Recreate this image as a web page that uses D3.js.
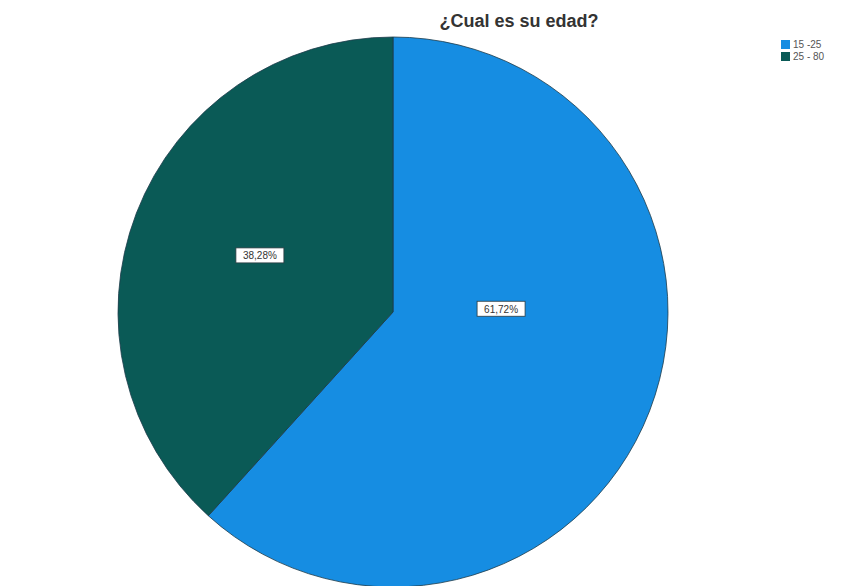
<!DOCTYPE html>
<html>
<head>
<meta charset="utf-8">
<script src="https://cdn.jsdelivr.net/npm/d3@7"></script>
<style>
  html, body { margin: 0; padding: 0; background: #ffffff; }
  svg { display: block; }
</style>
</head>
<body>
<svg id="chart" width="867" height="586"></svg>
<script>
// Age groups and their share of respondents (%)
const categories = ["15 -25", "25 - 80"];
const percentages = [61.72, 38.28];
const colors = ["#168de2", "#0a5a56"];
const title = "¿Cual es su edad?";

const width = 867, height = 586;
const cx = 393, cy = 312, radius = 275;

// Label anchors, as fractions of the radius relative to the centre
const labelAnchors = [[0.393, -0.01], [-0.484, -0.204]];

const svg = d3.select("#chart");

svg.append("text")
  .attr("x", 519).attr("y", 27)
  .attr("text-anchor", "middle")
  .attr("font-family", "Liberation Sans, Arial, sans-serif")
  .attr("font-weight", "bold")
  .attr("font-size", 18)
  .attr("fill", "#333")
  .text(title);

const data = categories.map((c, i) => ({ cat: c, value: percentages[i], color: colors[i], i }));

const pie = d3.pie().value(d => d.value).sort(null);
const arc = d3.arc().innerRadius(0).outerRadius(radius);

const g = svg.append("g").attr("transform", `translate(${cx},${cy})`);

g.selectAll("path.slice")
  .data(pie(data))
  .join("path")
  .attr("class", "slice")
  .attr("d", arc)
  .attr("fill", d => d.data.color)
  .attr("stroke", "#1d3b4a")
  .attr("stroke-width", 0.8);

const fmt = v => d3.format(".2f")(v).replace(".", ",") + "%";

const labels = g.selectAll("g.lbl")
  .data(pie(data))
  .join("g")
  .attr("class", "lbl")
  .attr("transform", d => {
    const a = labelAnchors[d.data.i];
    return `translate(${a[0] * radius},${a[1] * radius})`;
  });

labels.append("rect")
  .attr("x", -24).attr("y", -8)
  .attr("width", 48).attr("height", 15)
  .attr("fill", "#ffffff")
  .attr("stroke", "#2a3a40")
  .attr("stroke-width", 0.8);

labels.append("text")
  .attr("text-anchor", "middle")
  .attr("y", 3.5)
  .attr("font-family", "Liberation Sans, Arial, sans-serif")
  .attr("font-size", 10)
  .attr("fill", "#333")
  .text(d => fmt(d.data.value));

// Legend
const legend = svg.append("g").attr("transform", "translate(781,40)");
const item = legend.selectAll("g")
  .data(data)
  .join("g")
  .attr("transform", (d, i) => `translate(0,${i * 12})`);

item.append("rect")
  .attr("width", 9).attr("height", 9)
  .attr("fill", d => d.color);

item.append("text")
  .attr("x", 12).attr("y", 8)
  .attr("font-family", "Liberation Sans, Arial, sans-serif")
  .attr("font-size", 10)
  .attr("fill", "#555")
  .text(d => d.cat);
</script>
</body>
</html>
